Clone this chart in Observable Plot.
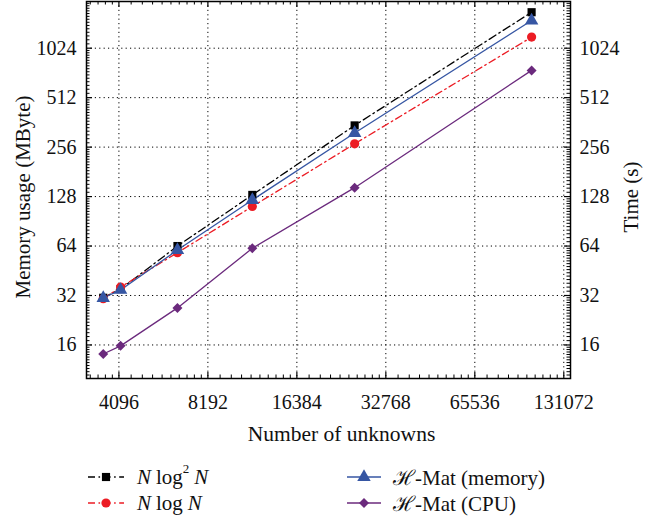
<!DOCTYPE html>
<html><head><meta charset="utf-8">
<script src="https://cdn.jsdelivr.net/npm/d3@7"></script>
<script src="https://cdn.jsdelivr.net/npm/@observablehq/plot@0.6"></script>
<style>
body{margin:0;background:#fff;font-family:"Liberation Serif",serif;}
#wrap{position:relative;width:658px;height:518px;overflow:hidden;}
#chart{position:absolute;left:0;top:0;}
.leg{position:absolute;height:24px;display:flex;align-items:center;font-size:21px;white-space:nowrap;color:#111;}
.leg svg{display:block;}
.sup{font-size:13px;position:relative;top:-8px;}
.sp{display:inline-block;width:5px;}
</style></head><body><div id="wrap"><div id="chart"></div></div>
<script>
// ---- data ----
const unknowns   = [3625, 4150, 6463, 11580, 25700, 102000];
const nlog2n     = [31, 35, 64, 131, 347, 1695];
const nlogn      = [30.6, 36, 58.3, 111.4, 268, 1196];
const hmatMemory = [30.9, 34.6, 60.5, 122, 312, 1508];
const hmatCPU    = [14.1, 15.8, 26.9, 62, 145, 750];
const xTicks = [4096, 8192, 16384, 32768, 65536, 131072];
const yTicks = [16, 32, 64, 128, 256, 512, 1024];
const xLabel = "Number of unknowns";
const yLabelLeft = "Memory usage (MByte)";
const yLabelRight = "Time (s)";

const series = [
  {key: "nlog2n", values: nlog2n, color: "#000000", symbol: "square", r: 4.6, dash: "8,3.5,1.6,3.5", legend: '<i>N</i><span class="sp"></span>log<span class="sup">2</span><span class="sp"></span><i>N</i>'},
  {key: "nlogn", values: nlogn, color: "#ec1c24", symbol: "circle", r: 4.6, dash: "7,3.5,1.6,3.5", legend: '<i>N</i><span class="sp"></span>log<span class="sp"></span><i>N</i>'},
  {key: "hmem", values: hmatMemory, color: "#3656a3", symbol: "triangle", r: 5, dash: null, legend: 'ℋ-Mat (memory)'},
  {key: "hcpu", values: hmatCPU, color: "#6b2a7d", symbol: "diamond2", r: 4.5, dash: null, legend: 'ℋ-Mat (CPU)'}
];
const rows = series.flatMap(s => s.values.map((v, i) => ({key: s.key, x: unknowns[i], y: v})));

// ---- layout ----
const W = 658, H = 460, mL = 86, mR = 88, mT = 1, mB = 82;
const innerW = W - mL - mR, innerH = H - mT - mB;
const xDomain = [3182, 138100], yDomain = [10, 1970];

const xMinor = [];
for (let o = 2048; o <= 131072; o *= 2) for (let k = 1; k < 10; k++) {
  const v = o * (1 + k / 10); if (v > xDomain[0] && v < xDomain[1]) xMinor.push(v);
}
const yMinor = [];
for (let o = 8; o <= 1024; o *= 2) for (let k = 1; k < 16; k++) {
  const v = o * (1 + k / 16); if (v > yDomain[0] && v < yDomain[1]) yMinor.push(v);
}

const marks = [
  Plot.ruleX(xTicks, {x: d => d, stroke: "#000", strokeWidth: 1, strokeDasharray: "1.2,3.2"}),
  Plot.ruleY(yTicks, {y: d => d, stroke: "#000", strokeWidth: 1, strokeDasharray: "1.2,3.2"}),
  // inward ticks on all sides
  Plot.ruleX(xTicks, {x: d => d, insetTop: innerH - 6, stroke: "#000", strokeWidth: 1.2}),
  Plot.ruleX(xTicks, {x: d => d, insetBottom: innerH - 6, stroke: "#000", strokeWidth: 1.2}),
  Plot.ruleX(xMinor, {x: d => d, insetTop: innerH - 3.5, stroke: "#000", strokeWidth: 1}),
  Plot.ruleX(xMinor, {x: d => d, insetBottom: innerH - 3.5, stroke: "#000", strokeWidth: 1}),
  Plot.ruleY(yTicks, {y: d => d, insetRight: innerW - 6, stroke: "#000", strokeWidth: 1.2}),
  Plot.ruleY(yTicks, {y: d => d, insetLeft: innerW - 6, stroke: "#000", strokeWidth: 1.2}),
  Plot.ruleY(yMinor, {y: d => d, insetRight: innerW - 3.5, stroke: "#000", strokeWidth: 1}),
  Plot.ruleY(yMinor, {y: d => d, insetLeft: innerW - 3.5, stroke: "#000", strokeWidth: 1}),
];
for (const s of series) {
  const data = rows.filter(d => d.key === s.key);
  marks.push(Plot.line(data, {x: "x", y: "y", stroke: s.color, strokeWidth: 1.3, strokeDasharray: s.dash || undefined}));
}
for (const s of series) {
  const data = rows.filter(d => d.key === s.key);
  marks.push(Plot.dot(data, {x: "x", y: "y", fill: s.color, stroke: "none", symbol: () => s.symbol, r: s.r}));
}
marks.push(
  Plot.frame({stroke: "#000", strokeWidth: 1.5}),
  Plot.axisX(xTicks, {anchor: "bottom", tickSize: 0, tickPadding: 16, tickFormat: d => String(d), label: null}),
  Plot.axisY(yTicks, {anchor: "left", tickSize: 0, tickPadding: 10, tickFormat: d => String(d), label: null}),
  Plot.axisY(yTicks, {anchor: "right", tickSize: 0, tickPadding: 9, tickFormat: d => String(d), label: null}),
  Plot.text([xLabel], {frameAnchor: "bottom", textAnchor: "middle", dx: 13, dy: 62, lineAnchor: "bottom", fill: "#111", fontSize: 21.5}),
  Plot.text([yLabelLeft], {frameAnchor: "left", textAnchor: "middle", rotate: -90, dx: -63, dy: 7, fill: "#111", fontSize: 21}),
  Plot.text([yLabelRight], {frameAnchor: "right", textAnchor: "middle", rotate: -90, dx: 61, dy: 7, fill: "#111", fontSize: 21})
);

const chart = Plot.plot({
  width: W, height: H,
  marginLeft: mL, marginRight: mR, marginTop: mT, marginBottom: mB,
  x: {type: "log", base: 2, domain: xDomain},
  y: {type: "log", base: 2, domain: yDomain},
  style: {fontFamily: "'Liberation Serif', serif", fontSize: "20px", color: "#111", background: "#fff"},
  marks
});
document.getElementById("chart").appendChild(chart);

// ---- legend (HTML below the plot) ----
const wrap = document.getElementById("wrap");
const legPos = [
  {sx: 88, sw: 36, tx: 137, top: 465},
  {sx: 88, sw: 36, tx: 137, top: 491},
  {sx: 347, sw: 34, tx: 393, top: 465},
  {sx: 347, sw: 34, tx: 393, top: 491}
];
series.forEach((s, i) => {
  const p = legPos[i];
  const sym = document.createElement("div");
  sym.className = "leg"; sym.style.left = p.sx + "px"; sym.style.top = p.top + "px";
  const svg = d3.select(sym).append("svg").attr("width", p.sw).attr("height", 24);
  svg.append("line").attr("x1", 0).attr("x2", p.sw).attr("y1", 12).attr("y2", 12)
    .attr("stroke", s.color).attr("stroke-width", 1.3)
    .attr("stroke-dasharray", s.dash ? "7,3.5,1.6,3.5" : null);
  const symMap = {square: d3.symbolSquare, circle: d3.symbolCircle, triangle: d3.symbolTriangle, diamond2: d3.symbolDiamond2};
  svg.append("path").attr("transform", `translate(${p.sw / 2},12)`)
    .attr("d", d3.symbol(symMap[s.symbol], Math.PI * s.r * s.r)()).attr("fill", s.color);
  wrap.appendChild(sym);
  const txt = document.createElement("div");
  txt.className = "leg"; txt.style.left = p.tx + "px"; txt.style.top = p.top + "px";
  txt.innerHTML = s.legend;
  wrap.appendChild(txt);
});
</script></body></html>
